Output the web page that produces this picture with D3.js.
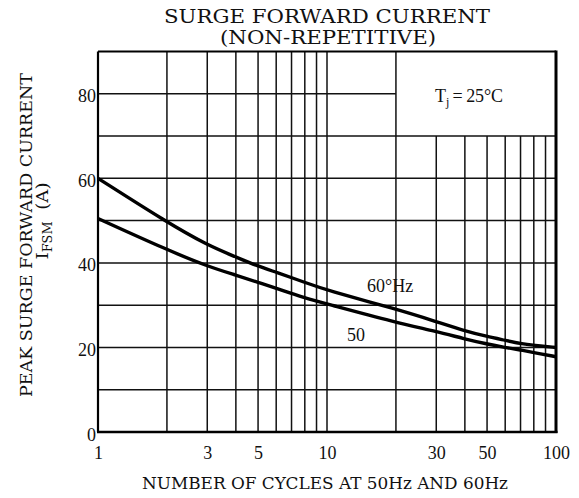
<!DOCTYPE html>
<html>
<head>
<meta charset="utf-8">
<script src="https://cdn.jsdelivr.net/npm/d3@7"></script>
<style>
  body { margin: 0; background: #fff; }
  svg { display: block; }
  text { font-family: 'Liberation Serif', 'DejaVu Serif', serif; fill: #111; }
  .cap { font-family: 'DejaVu Serif', serif; }
  .grid { stroke: #111; stroke-width: 1.5; }
  .curve { fill: none; stroke: #000; stroke-width: 3.4; }
</style>
</head>
<body>
<svg width="579" height="498"></svg>
<script>
// values
const cycles = [1, 2, 3, 4, 5, 6, 8, 10, 20, 30, 40, 50, 60, 70, 80, 100];
const hz60 = [60, 49.6, 44.2, 41.4, 39.2, 37.8, 35.4, 33.5, 29.1, 26.1, 23.9, 22.6, 21.7, 20.9, 20.5, 20];
const hz50 = [50.5, 43.1, 39.2, 37.1, 35.4, 34, 31.7, 30.3, 25.9, 23.8, 22, 20.8, 20, 19.4, 18.8, 17.8];

const xTicks = [1, 3, 5, 10, 30, 50, 100];
const yTicks = [0, 20, 40, 60, 80];
const xGridFull = [2, 3, 4, 5, 6, 7, 8, 9, 10, 20];
const xGridShort = [30, 40, 50, 60, 70, 80, 90];
const yGridFull = [10, 20, 30, 40, 50, 60, 70];

const svg = d3.select('svg');

const x = d3.scaleLog().domain([1, 100]).range([98, 556]);
const y = d3.scaleLinear().domain([0, 90]).range([432, 51.5]);

const grid = svg.append('g');

grid.selectAll('line.vfull')
  .data(xGridFull)
  .enter().append('line')
  .attr('class', 'grid')
  .attr('x1', d => x(d)).attr('x2', d => x(d))
  .attr('y1', y(0)).attr('y2', y(90));

grid.selectAll('line.vshort')
  .data(xGridShort)
  .enter().append('line')
  .attr('class', 'grid')
  .attr('x1', d => x(d)).attr('x2', d => x(d))
  .attr('y1', y(0)).attr('y2', y(70));

grid.selectAll('line.hfull')
  .data(yGridFull)
  .enter().append('line')
  .attr('class', 'grid')
  .attr('x1', x(1)).attr('x2', x(100))
  .attr('y1', d => y(d)).attr('y2', d => y(d));

// the 80 line stops at the Tj box
grid.append('line')
  .attr('class', 'grid')
  .attr('x1', x(1)).attr('x2', x(20))
  .attr('y1', y(80)).attr('y2', y(80));

// frame
const frame = svg.append('g').attr('stroke', '#000');
frame.append('line').attr('x1', x(1)).attr('x2', x(100)).attr('y1', y(90)).attr('y2', y(90)).attr('stroke-width', 2);
frame.append('line').attr('x1', x(1) - 1).attr('x2', x(100) + 1.5).attr('y1', y(0)).attr('y2', y(0)).attr('stroke-width', 2.6);
frame.append('line').attr('x1', x(1)).attr('x2', x(1)).attr('y1', y(90)).attr('y2', y(0)).attr('stroke-width', 2.2);
frame.append('line').attr('x1', x(100)).attr('x2', x(100)).attr('y1', y(90) - 1).attr('y2', y(0) + 1).attr('stroke-width', 3);

// curves
const line = d3.line()
  .x((d, i) => x(cycles[i]))
  .y(d => y(d))
  .curve(d3.curveBasis);

svg.append('path').attr('class', 'curve').attr('d', line(hz60));
svg.append('path').attr('class', 'curve').attr('d', line(hz50));

// axes
const xAxis = svg.append('g')
  .attr('transform', 'translate(0,' + (y(0) + 11) + ')')
  .call(d3.axisBottom(x).tickValues(xTicks).tickFormat(d3.format('d')).tickSize(0));
xAxis.select('.domain').remove();
xAxis.selectAll('text').attr('font-size', 18).attr('font-family', null).attr('fill', null);

const yAxis = svg.append('g')
  .attr('transform', 'translate(' + (x(1) + 1) + ',0)')
  .call(d3.axisLeft(y).tickValues(yTicks).tickSize(0));
yAxis.select('.domain').remove();
yAxis.selectAll('text').attr('font-size', 18).attr('font-family', null).attr('fill', null).attr('dy', '0.45em');

// titles
svg.append('text').attr('class', 'cap').attr('x', 327).attr('y', 23).attr('text-anchor', 'middle')
  .attr('font-size', 18).attr('textLength', 326).attr('lengthAdjust', 'spacingAndGlyphs')
  .text('SURGE FORWARD CURRENT');
svg.append('text').attr('class', 'cap').attr('x', 328).attr('y', 44).attr('text-anchor', 'middle')
  .attr('font-size', 18).attr('textLength', 216).attr('lengthAdjust', 'spacingAndGlyphs')
  .text('(NON-REPETITIVE)');

svg.append('text').attr('class', 'cap').attr('x', 325).attr('y', 489).attr('text-anchor', 'middle')
  .attr('font-size', 16).attr('textLength', 366).attr('lengthAdjust', 'spacingAndGlyphs')
  .text('NUMBER OF CYCLES AT 50Hz AND 60Hz');

svg.append('text').attr('class', 'cap').attr('transform', 'translate(32,235) rotate(-90)').attr('text-anchor', 'middle')
  .attr('font-size', 17).attr('textLength', 324).attr('lengthAdjust', 'spacingAndGlyphs')
  .text('PEAK SURGE FORWARD CURRENT');

const ifsm = svg.append('text').attr('class', 'cap').attr('transform', 'translate(48,221) rotate(-90)').attr('text-anchor', 'middle')
  .attr('font-size', 17).attr('textLength', 77).attr('lengthAdjust', 'spacingAndGlyphs');
ifsm.append('tspan').text('I');
ifsm.append('tspan').attr('font-size', 12).attr('dy', 4).text('FSM');
ifsm.append('tspan').attr('dy', -4).text('\u00a0\u00a0(A)');

// annotations
const tj = svg.append('text').attr('x', 435).attr('y', 102).attr('font-size', 18)
  .attr('textLength', 68).attr('lengthAdjust', 'spacing');
tj.append('tspan').text('T');
tj.append('tspan').attr('font-size', 12).attr('dy', 4).text('j');
tj.append('tspan').attr('dy', -4).text('\u2009=\u200925°C');

svg.append('text').attr('x', 367).attr('y', 292).attr('font-size', 18).text('60°Hz');
svg.append('text').attr('x', 347).attr('y', 341).attr('font-size', 18).text('50');
</script>
</body>
</html>
